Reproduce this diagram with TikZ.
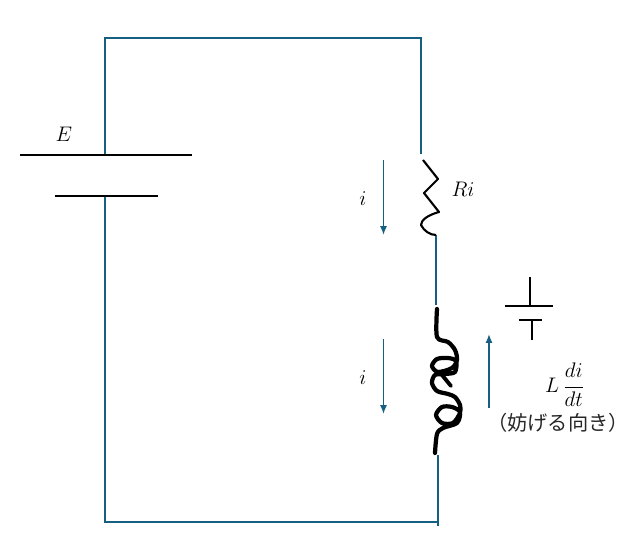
\documentclass[tikz,border=0pt]{standalone}
\usepackage{amsmath}
\usepackage{fontspec}
\newfontfamily\jpfont{Noto Sans CJK JP}
\usetikzlibrary{arrows.meta}
\definecolor{wireblue}{RGB}{21, 96, 130}
\tikzset{
  wire/.style={draw=wireblue, line width=1.1pt},
  plate/.style={draw=black, line width=1.1pt},
  flow/.style={draw=wireblue, line width=0.95pt, -{Latex[length=5pt, width=4pt]}},
  lbl/.style={inner sep=0pt, font=\fontsize{12.5}{15}\selectfont}
}
\begin{document}
\begin{tikzpicture}[x=0.02cm, y=-0.02cm]
  \useasboundingbox (0,0) rectangle (627,551);

  % Battery
  \coordinate (batL1) at (20,155);
  \coordinate (batR1) at (192,155);
  \coordinate (batL2) at (55,196);
  \coordinate (batR2) at (158,196);
  \coordinate (batTop) at (105,155);
  \coordinate (batBot) at (105,196);
  \node[lbl] (labelE) at (64,134) {$E$};

  % Loop corners
  \coordinate (cornerTL) at (105,38);
  \coordinate (cornerTR) at (421,38);
  \coordinate (resTop) at (421,154);
  \coordinate (resBot) at (436,235);
  \coordinate (coilTop) at (436,305);
  \coordinate (coilBot) at (438,455);
  \coordinate (cornerBL) at (105,522);
  \coordinate (cornerBR) at (438,522);
  \coordinate (wireEnd) at (438,526);

  \draw[wire] (batTop) -- (cornerTL) -- (cornerTR) -- (resTop);
  \draw[wire] (resBot) -- (coilTop);
  \draw[wire] (batBot) -- (cornerBL) -- (cornerBR);
  \draw[wire] (wireEnd) -- (coilBot);
  \draw[plate] (batL1) -- (batR1);
  \draw[plate] (batL2) -- (batR2);

  % Resistor
  \draw[line width=1.2pt, line join=round] (423,160) -- (438,179) -- (424,193) -- (439,212)
    .. controls (428,215) and (421,220) .. (421,225)
    .. controls (424,231) and (430,235) .. (436,235);
  \node[lbl] (labelRi) at (463,189) {$Ri$};

  % Coil
  \draw[line width=2.4pt, line cap=round, line join=round] plot[smooth, tension=0.5] coordinates {
    (437,309) (437,337) (448,342) (455,350) (457,360) (452,368) (438,372) (432,366) (437,359)
    (448,358) (456,361) (455,372) (445,374) (435,375) (432,383) (437,391) (448,394) (455,397)
    (460,405) (460,413) (453,423) (442,423) (436,415) (442,407) (452,407) (460,412) (457,423)
    (443,428) (437,434) (435,453)};
  \draw[line width=2.2pt, line cap=round, line join=round] (442,375) -- (451,386);

  % Current arrows
  \coordinate (iTopS) at (383.5,160);
  \coordinate (iTopE) at (383.5,235);
  \coordinate (iBotS) at (383.5,339);
  \coordinate (iBotE) at (383.5,414);
  \coordinate (backS) at (489,408);
  \coordinate (backE) at (489,334);
  \draw[flow] (iTopS) -- (iTopE);
  \draw[flow] (iBotS) -- (iBotE);
  \draw[flow] (backS) -- (backE);
  \node[lbl] (labelI1) at (363,199) {$i$};
  \node[lbl] (labelI2) at (363,378) {$i$};

  % Small battery symbol
  \coordinate (symTop) at (530,277);
  \coordinate (symMid) at (530,306);
  \coordinate (symL1) at (505,306);
  \coordinate (symR1) at (553,306);
  \coordinate (symL2) at (519,320);
  \coordinate (symR2) at (542,320);
  \coordinate (symMid2) at (532,320);
  \coordinate (symBot) at (532,340);
  \draw[plate] (symTop) -- (symMid);
  \draw[plate] (symL1) -- (symR1);
  \draw[plate] (symL2) -- (symR2);
  \draw[plate] (symMid2) -- (symBot);

  % Back emf label
  \node[lbl] (labelEmf) at (565,385) {$L\,\dfrac{di}{dt}$};
  \node[inner sep=0pt, text=black!85, font=\fontsize{11.5}{14}\selectfont\jpfont] (labelDir) at (558,423) {（妨げる向き）};
\end{tikzpicture}
\end{document}
